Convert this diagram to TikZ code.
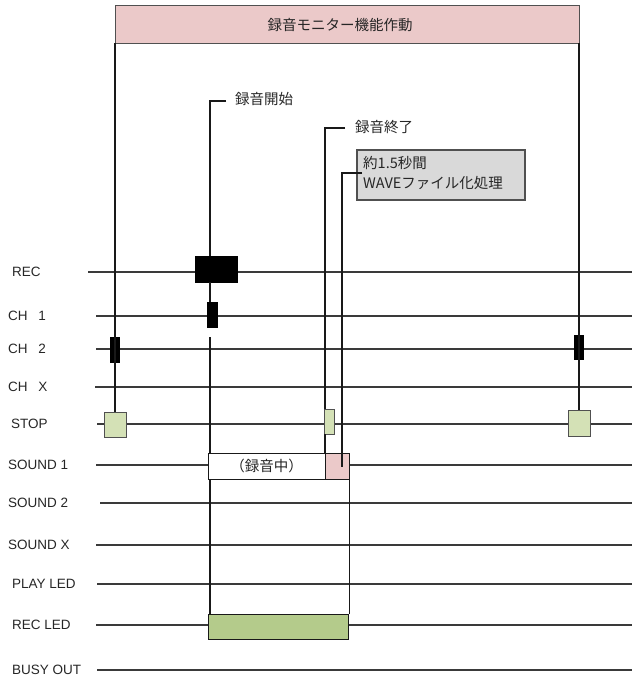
\documentclass[tikz,border=0pt]{standalone}
\usepackage{fontspec}
\setmainfont{Liberation Sans}
\newfontfamily\jp{Noto Sans CJK JP}
\definecolor{hdrpink}{HTML}{EBC9C9}
\definecolor{stopgreen}{HTML}{D4E1B6}
\definecolor{ledgreen}{HTML}{B4CB8B}
\definecolor{boxgray}{HTML}{D9D9D9}
\definecolor{linegray}{HTML}{3A3A3A}
\definecolor{edgegray}{HTML}{505050}
\begin{document}
\begin{tikzpicture}[x=1pt,y=1pt,
  lab/.style={anchor=west,inner sep=0pt,font=\fontsize{13.5}{15}\selectfont,text=black!85},
  jlab/.style={anchor=west,inner sep=0pt,font=\jp\fontsize{14.5}{16}\selectfont,text=black!85},
  sig/.style={draw=linegray,line width=1.1pt},
  vline/.style={draw=black!90,line width=1.1pt},
  blk/.style={rectangle,inner sep=0pt,fill=black,draw=black},
  gbox/.style={rectangle,inner sep=0pt,fill=stopgreen,draw=edgegray,line width=0.9pt},
  wbox/.style={rectangle,inner sep=0pt,draw=black!90,line width=0.9pt}
]
\useasboundingbox (0,0) rectangle (632,-682);
% ---- horizontal signal lines
\foreach \nm/\txt/\lx/\sx/\yy in {
  REC/{REC}/12/88/272,
  CHa/{CH\hspace{0.8em}1}/8/96/316,
  CHb/{CH\hspace{0.8em}2}/8/96/349,
  CHx/{CH\hspace{0.8em}X}/8/95/387,
  STOP/{STOP}/11/97/424,
  SNa/{SOUND 1}/8/96/465,
  SNb/{SOUND 2}/8/100/503,
  SNx/{SOUND X}/8/96/545,
  PLAY/{PLAY LED}/12/97/584,
  RLED/{REC LED}/12/96/625,
  BUSY/{BUSY OUT}/12/97/670}{
  \node[lab] (l\nm) at (\lx,-\yy) {\txt};
  \coordinate (s\nm) at (\sx,-\yy);
  \coordinate (e\nm) at (632,-\yy);
  \draw[sig] (s\nm) -- (e\nm);
}
% ---- header
\node[rectangle,inner sep=0pt,minimum width=464pt,minimum height=38pt,fill=hdrpink,draw=edgegray,line width=0.9pt] (hdr) at (347,-24) {};
\node[jlab,anchor=center] (hdrt) at (340,-25) {録音モニター機能作動};
% ---- boxes
\node[blk,minimum width=9pt,minimum height=25pt] (chL) at (115,-349.5) {};
\node[blk,minimum width=9pt,minimum height=24pt] (chR) at (579,-347) {};
\node[gbox,minimum width=22pt,minimum height=25pt] (stL) at (115,-425) {};
\node[gbox,minimum width=22pt,minimum height=26pt] (stR) at (579,-423) {};
\node[blk,minimum width=42pt,minimum height=26pt] (recb) at (216,-269) {};
\node[blk,minimum width=10pt,minimum height=25pt] (ch1b) at (212,-314.5) {};
\node[gbox,minimum width=10pt,minimum height=25pt] (stM) at (329,-421.5) {};
\node[wbox,fill=white,minimum width=117pt,minimum height=26pt] (snw) at (266.5,-466) {};
\node[jlab,anchor=center] (snwt) at (266.5,-466) {（録音中）};
\node[wbox,fill=hdrpink,minimum width=24pt,minimum height=26pt] (snp) at (337,-466) {};
\node[wbox,fill=ledgreen,minimum width=140pt,minimum height=25pt] (led) at (278,-626.5) {};
\node[rectangle,inner sep=0pt,minimum width=168pt,minimum height=50pt,fill=boxgray,draw=edgegray,line width=1.3pt] (gray) at (441,-175) {};
\node[jlab,align=left,font=\jp\fontsize{14.5}{20}\selectfont] (grayt) at (363,-173) {約1.5秒間\\WAVEファイル化処理};
% ---- monitor verticals
\draw[vline] (hdr.south -| stL.north) -- (stL.north);
\draw[vline] (hdr.south -| stR.north) -- (stR.north);
% ---- rec start
\coordinate (cA) at (210,-101);
\coordinate (cA2) at (226,-101);
\node[jlab] (tA) at (235,-99) {録音開始};
\draw[vline] (cA2) -- (cA) -- (cA |- recb.north);
\draw[vline] (cA |- recb.south) -- (cA |- ch1b.north);
\coordinate (cA3) at (210,-337);
\draw[vline] (cA3) -- (cA |- snw.north);
\draw[vline] (cA |- snw.south) -- (cA |- led.north);
% ---- rec end
\coordinate (cB) at (325,-128);
\coordinate (cB2) at (345,-128);
\node[jlab] (tB) at (355,-127) {録音終了};
\draw[vline] (cB2) -- (cB) -- (cB |- stM.north);
\draw[vline] (cB |- stM.south) -- (cB |- snw.north);
% ---- wave processing
\coordinate (cC) at (342,-173);
\coordinate (cC2) at (362,-173);
\coordinate (cC3) at (342,-467);
\draw[vline] (cC2) -- (cC) -- (cC3);
\draw[vline] (snp.south east) -- (snp.south east |- led.north);
\end{tikzpicture}
\end{document}
